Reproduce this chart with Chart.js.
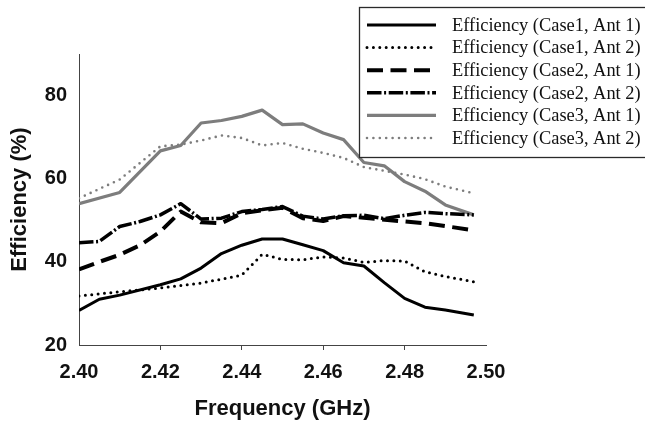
<!DOCTYPE html>
<html>
<head>
<meta charset="utf-8">
<script src="https://cdn.jsdelivr.net/npm/chart.js@4.4.1/dist/chart.umd.min.js"></script>
<style>
  html, body { margin: 0; padding: 0; background: #ffffff; }
  #wrap { width: 645px; height: 425px; }
</style>
</head>
<body>
<div id="wrap"><canvas id="c" width="645" height="425"></canvas></div>
<script>
// ---- data ----
const seriesLabels = [
  'Efficiency (Case1, Ant 1)',
  'Efficiency (Case1, Ant 2)',
  'Efficiency (Case2, Ant 1)',
  'Efficiency (Case2, Ant 2)',
  'Efficiency (Case3, Ant 1)',
  'Efficiency (Case3, Ant 2)'
];

const freqCase1Ant1 = [2.400, 2.405, 2.410, 2.420, 2.425, 2.430, 2.435, 2.440, 2.445, 2.450, 2.455, 2.460, 2.465, 2.470, 2.475, 2.480, 2.485, 2.490, 2.497];
const effCase1Ant1  = [28.3, 31.0, 32.0, 34.5, 35.9, 38.5, 42.0, 44.0, 45.5, 45.5, 44.1, 42.7, 39.8, 39.0, 35.0, 31.2, 29.1, 28.4, 27.2];

const freqCase1Ant2 = [2.400, 2.410, 2.420, 2.430, 2.440, 2.445, 2.450, 2.455, 2.460, 2.465, 2.470, 2.475, 2.480, 2.485, 2.490, 2.497];
const effCase1Ant2  = [31.8, 32.8, 33.7, 34.9, 36.8, 41.8, 40.6, 40.5, 41.2, 40.9, 39.9, 40.3, 40.2, 37.6, 36.5, 35.2];

const freqCase2Ant1 = [2.400, 2.405, 2.410, 2.415, 2.420, 2.425, 2.430, 2.435, 2.440, 2.445, 2.450, 2.455, 2.460, 2.465, 2.470, 2.480, 2.485, 2.497];
const effCase2Ant1  = [38.2, 40.0, 41.7, 44.0, 47.3, 52.1, 49.5, 49.3, 51.7, 52.4, 53.0, 50.5, 49.8, 51.0, 50.6, 49.7, 49.3, 47.6];

const freqCase2Ant2 = [2.400, 2.405, 2.410, 2.415, 2.420, 2.425, 2.430, 2.435, 2.440, 2.445, 2.450, 2.455, 2.460, 2.465, 2.470, 2.475, 2.480, 2.485, 2.490, 2.497];
const effCase2Ant2  = [44.6, 44.9, 48.5, 49.7, 51.3, 54.0, 50.3, 50.5, 52.1, 52.6, 53.3, 51.0, 50.3, 51.1, 51.2, 50.4, 51.2, 51.9, 51.6, 51.3];

const freqCase3Ant1 = [2.400, 2.410, 2.420, 2.425, 2.430, 2.435, 2.440, 2.445, 2.450, 2.455, 2.460, 2.465, 2.470, 2.475, 2.480, 2.485, 2.490, 2.497];
const effCase3Ant1  = [54.0, 56.7, 66.7, 68.0, 73.4, 74.0, 75.0, 76.5, 73.0, 73.2, 71.0, 69.4, 63.9, 63.1, 59.3, 57.0, 53.7, 51.3];

const freqCase3Ant2 = [2.400, 2.410, 2.420, 2.425, 2.430, 2.435, 2.440, 2.445, 2.450, 2.455, 2.460, 2.465, 2.470, 2.475, 2.480, 2.485, 2.490, 2.497];
const effCase3Ant2  = [55.3, 59.8, 67.8, 68.2, 69.2, 70.4, 69.8, 68.0, 68.6, 67.2, 66.2, 65.0, 62.8, 61.9, 61.0, 59.9, 58.1, 56.5];

const xTickValues = [2.40, 2.42, 2.44, 2.46, 2.48, 2.50];
const xTickLabels = ['2.40', '2.42', '2.44', '2.46', '2.48', '2.50'];
const yTickValues = [20, 40, 60, 80];
const yTickLabels = ['20', '40', '60', '80'];

const xTitle = 'Frequency (GHz)';
const yTitle = 'Efficiency (%)';

// ---- build chart ----
function pts(xs, ys) { return xs.map((x, i) => ({ x: x, y: ys[i] })); }

const GRAY = '#7d7d7d';
const datasets = [
  { label: seriesLabels[0], data: pts(freqCase1Ant1, effCase1Ant1), borderColor: '#000', borderWidth: 3, borderDash: [], borderCapStyle: 'butt' },
  { label: seriesLabels[1], data: pts(freqCase1Ant2, effCase1Ant2), borderColor: '#000', borderWidth: 3, borderDash: [0, 6.4], borderCapStyle: 'round' },
  { label: seriesLabels[2], data: pts(freqCase2Ant1, effCase2Ant1), borderColor: '#000', borderWidth: 4, borderDash: [16, 7.5], borderCapStyle: 'butt' },
  { label: seriesLabels[3], data: pts(freqCase2Ant2, effCase2Ant2), borderColor: '#000', borderWidth: 3.5, borderDash: [14.5, 2.6, 2, 2.6], borderCapStyle: 'butt' },
  { label: seriesLabels[4], data: pts(freqCase3Ant1, effCase3Ant1), borderColor: GRAY, borderWidth: 3.2, borderDash: [], borderCapStyle: 'butt' },
  { label: seriesLabels[5], data: pts(freqCase3Ant2, effCase3Ant2), borderColor: GRAY, borderWidth: 2.6, borderDash: [0, 6.4], borderCapStyle: 'round' }
].map(d => Object.assign(d, { fill: false, tension: 0, pointRadius: 0, pointHoverRadius: 0, borderJoinStyle: 'round' }));

const boxLegend = {
  id: 'boxLegend',
  afterDraw(chart) {
    const ctx = chart.ctx;
    ctx.save();
    ctx.fillStyle = '#ffffff';
    ctx.fillRect(359.5, 7.5, 300, 150);
    ctx.strokeStyle = '#2a2a2a';
    ctx.lineWidth = 1.3;
    ctx.strokeRect(359.5, 7.5, 300, 150);
    chart.data.datasets.forEach((ds, i) => {
      const y = 25 + i * 22.6;
      ctx.beginPath();
      ctx.setLineDash(ds.borderDash || []);
      ctx.lineCap = ds.borderCapStyle || 'butt';
      ctx.lineWidth = ds.borderWidth;
      ctx.strokeStyle = ds.borderColor;
      ctx.moveTo(367, y);
      ctx.lineTo(436, y);
      ctx.stroke();
      ctx.setLineDash([]);
      ctx.fillStyle = '#111';
      ctx.font = '18.4px "Liberation Serif", "Times New Roman", serif';
      ctx.textBaseline = 'middle';
      ctx.textAlign = 'left';
      ctx.fillText(ds.label, 452, y + 1);
    });
    ctx.restore();
  }
};

const AXIS = '#444';
new Chart(document.getElementById('c'), {
  type: 'line',
  data: { datasets: datasets },
  plugins: [boxLegend],
  options: {
    responsive: false,
    animation: false,
    events: [],
    layout: { padding: { left: 0, right: 159, top: 54, bottom: 0 } },
    plugins: { legend: { display: false }, tooltip: { enabled: false } },
    scales: {
      x: {
        type: 'linear',
        min: 2.40,
        max: 2.50,
        afterBuildTicks: s => { s.ticks = xTickValues.map(v => ({ value: v })); },
        afterFit: s => { s.height = 80; },
        ticks: {
          callback: (v, i) => xTickLabels[i],
          color: '#111',
          font: { family: '"Liberation Sans", Arial, sans-serif', size: 20, weight: 'bold' },
          padding: 10,
          maxRotation: 0,
          autoSkip: false
        },
        grid: {
          display: true,
          drawOnChartArea: false,
          drawTicks: true,
          tickLength: 5,
          lineWidth: 1,
          color: ctx => (ctx.index === 0 || ctx.index === xTickValues.length - 1) ? 'rgba(0,0,0,0)' : AXIS
        },
        border: { display: true, color: AXIS, width: 1 },
        title: {
          display: true,
          text: xTitle,
          color: '#111',
          font: { family: '"Liberation Sans", Arial, sans-serif', size: 22, weight: 'bold' },
          padding: { top: 0, bottom: 3 }
        }
      },
      y: {
        type: 'linear',
        min: 20,
        max: 90,
        afterBuildTicks: s => { s.ticks = yTickValues.map(v => ({ value: v })); },
        afterFit: s => { s.width = 79; },
        ticks: {
          callback: (v, i) => yTickLabels[i],
          color: '#111',
          font: { family: '"Liberation Sans", Arial, sans-serif', size: 20, weight: 'bold' },
          padding: 12
        },
        grid: { display: false, drawTicks: false },
        border: { display: true, color: AXIS, width: 1 },
        title: {
          display: true,
          text: yTitle,
          color: '#111',
          font: { family: '"Liberation Sans", Arial, sans-serif', size: 22, weight: 'bold' },
          padding: { top: 7, bottom: 0 }
        }
      }
    }
  }
});
</script>
</body>
</html>
